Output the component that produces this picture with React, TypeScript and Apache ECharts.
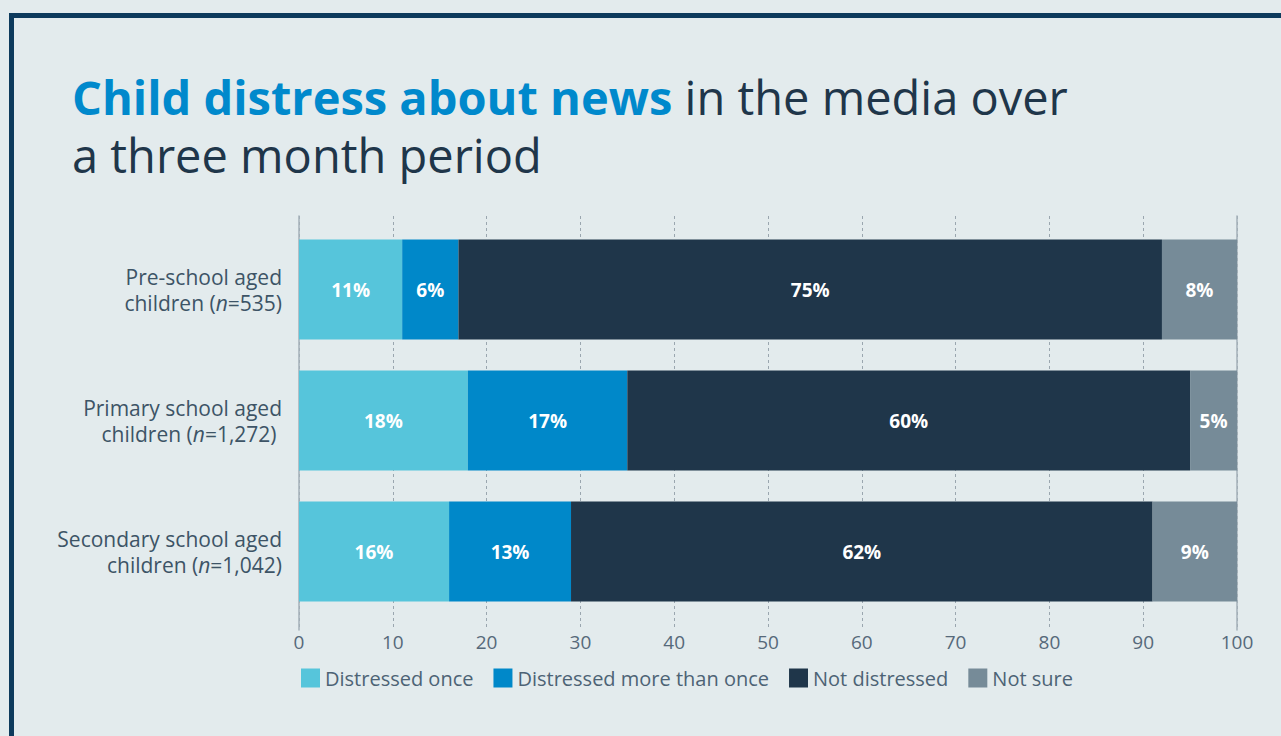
import React, { useEffect, useRef } from "react";
import * as echarts from "echarts";

const categories = [
  "Pre-school aged\nchildren ({i|n}=535)",
  "Primary school aged\nchildren ({i|n}=1,272) ",
  "Secondary school aged\nchildren ({i|n}=1,042)",
];
const seriesNames = ["Distressed once", "Distressed more than once", "Not distressed", "Not sure"];
const distressedOnce = [11, 18, 16];
const distressedMore = [6, 17, 13];
const notDistressed = [75, 60, 62];
const notSure = [8, 5, 9];
const colors = ["#56c5db", "#0088c9", "#1f364a", "#768b98"];

const FONT = "Open Sans";

export default function App() {
  const ref = useRef<HTMLDivElement>(null);
  useEffect(() => {
    if (!ref.current) return;
    const chart = echarts.init(ref.current, null, { renderer: "svg" });
    const values = [distressedOnce, distressedMore, notDistressed, notSure];
    chart.setOption({
      animation: false,
      backgroundColor: "#e3ebed",
      textStyle: { fontFamily: FONT },
      title: {
        left: 72,
        top: 68,
        padding: 0,
        text: "{b|Child distress about news}{n| in the media over}\n{n|a three month period}",
        textStyle: {
          rich: {
            b: { fontFamily: FONT, fontWeight: "bold", fontSize: 47, color: "#0089cc", lineHeight: 58 },
            n: { fontFamily: FONT, fontWeight: "normal", fontSize: 47, color: "#1f364a", lineHeight: 58 },
          },
        },
      },
      graphic: [
        {
          type: "rect",
          shape: { x: 11.5, y: 15.5, width: 1400, height: 900 },
          style: { fill: "none", stroke: "#0d3a5c", lineWidth: 5 },
          silent: true,
        },
      ],
      legend: {
        left: 296,
        top: 663,
        itemWidth: 19,
        itemHeight: 19,
        itemGap: 20,
        icon: "rect",
        textStyle: { fontFamily: FONT, fontSize: 20, color: "#4d6375", padding: [0, 0, 0, 0] },
        data: seriesNames,
      },
      grid: [
        { left: 299, right: 44, top: 216, bottom: 106 },
        { left: 299, right: 44, top: 224, bottom: 119 },
      ],
      xAxis: [
        {
          gridIndex: 0,
          type: "value",
          min: 0,
          max: 100,
          interval: 10,
          axisLine: { show: false },
          axisTick: { show: false },
          axisLabel: { fontFamily: FONT, fontSize: 19, color: "#56697a", margin: 2 },
          splitLine: { show: true, lineStyle: { color: "#9aa6af", type: [3, 3], width: 1 } },
        },
        {
          gridIndex: 1,
          type: "value",
          min: 0,
          max: 100,
          show: false,
        },
      ],
      yAxis: [
        {
          gridIndex: 0,
          type: "category",
          data: ["a"],
          position: "left",
          axisLine: { show: true, lineStyle: { color: "#a4b0b8", width: 1.5 } },
          axisTick: { show: false },
          axisLabel: { show: false },
        },
        {
          gridIndex: 0,
          type: "category",
          data: ["a"],
          position: "right",
          axisLine: { show: true, lineStyle: { color: "#a4b0b8", width: 1.5 } },
          axisTick: { show: false },
          axisLabel: { show: false },
        },
        {
          gridIndex: 1,
          type: "category",
          inverse: true,
          data: categories,
          axisLine: { show: false },
          axisTick: { show: false },
          axisLabel: {
            margin: 17,
            align: "right",
            fontFamily: FONT,
            fontSize: 21,
            lineHeight: 26,
            color: "#3d5466",
            rich: {
              i: { fontFamily: FONT, fontSize: 21, fontStyle: "italic", color: "#3d5466", lineHeight: 26 },
            },
          },
        },
      ],
      series: seriesNames.map((name, k) => ({
        name,
        type: "bar",
        stack: "total",
        xAxisIndex: 1,
        yAxisIndex: 2,
        barWidth: 100,
        itemStyle: { color: colors[k] },
        label: {
          show: true,
          position: "inside",
          formatter: (p: any) => p.value + "%",
          color: "#ffffff",
          fontFamily: FONT,
          fontWeight: "bold",
          fontSize: 19,
        },
        data: values[k],
      })),
    });
    return () => chart.dispose();
  }, []);
  return (
    <div
      ref={ref}
      style={{ position: "fixed", left: 0, top: 0, width: 1281, height: 736 }}
    />
  );
}
